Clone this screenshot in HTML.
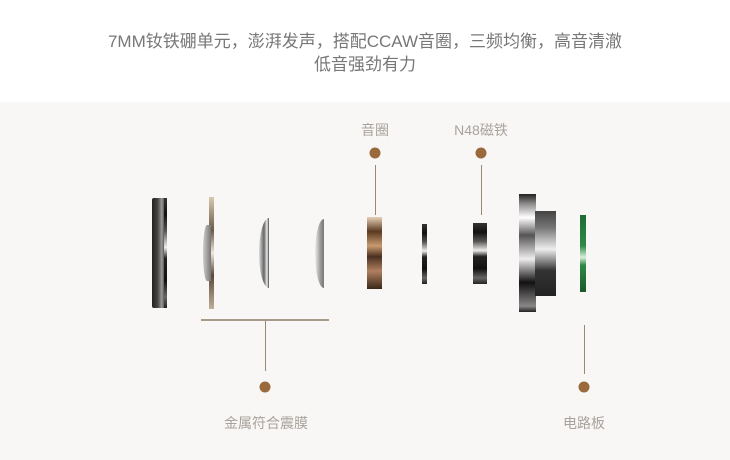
<!DOCTYPE html>
<html><head><meta charset="utf-8"><style>
body{margin:0;width:730px;height:460px;overflow:hidden;background:#fff;font-family:"Liberation Sans","Noto Sans CJK SC",sans-serif;position:relative}
.t{position:absolute;left:0;width:730px;text-align:center;color:#777;font-size:17px}
.bg{position:absolute;left:0;top:102px;width:730px;height:358px;background:#f8f7f6}
.a{position:absolute}
.lbl{position:absolute;color:#a9a29c;font-size:14px;transform:translateX(-50%);white-space:nowrap}
.dot{position:absolute;width:11px;height:11px;border-radius:50%;background:#9b6a3c;transform:translate(-50%,-50%)}
.vl{position:absolute;width:1px;background:#9a8877}
.mt{background:linear-gradient(#333 0%,#111 15%,#555 30%,#eee 45%,#222 55%,#111 75%,#666 90%,#222 100%)}
</style></head><body>
<div class="t" style="top:27px">7MM钕铁硼单元，澎湃发声，搭配CCAW音圈，三频均衡，高音清澈</div>
<div class="t" style="top:50px">低音强劲有力</div>
<div class="bg"></div>
<div class="a mt" style="left:152px;top:198px;width:14px;height:110px;border-radius:2px;background:linear-gradient(90deg,#222,#444 40%,#999 70%,#222)"></div>
<div class="a mt" style="left:164px;top:198px;width:3px;height:110px"></div>
<div class="a" style="left:209px;top:197px;width:5px;height:112px;background:linear-gradient(#d8c8b0,#6a5a48 30%,#f0e8dc 50%,#5a4a3a 70%,#c0b09a)"></div>
<div class="a" style="left:203px;top:225px;width:8px;height:56px;border-radius:50% 0 0 50%;background:linear-gradient(90deg,#ccc,#777)"></div>
<div class="a" style="left:259px;top:218px;width:10px;height:70px;border-radius:100% 0 0 100%/50% 0 0 50%;background:linear-gradient(90deg,#ddd,#666 50%,#eee 80%,#444)"></div>
<div class="a" style="left:315px;top:219px;width:9px;height:69px;border-radius:100% 0 0 100%/50% 0 0 50%;background:linear-gradient(90deg,#eee,#999 60%,#777)"></div>
<div class="a" style="left:367px;top:217px;width:15px;height:72px;background:linear-gradient(#e8d0b8,#5a3a20 20%,#c89a70 40%,#4a3020 55%,#b08060 75%,#3a2818)"></div>
<div class="a mt" style="left:422px;top:224px;width:5px;height:60px"></div>
<div class="a mt" style="left:473px;top:223px;width:14px;height:61px"></div>
<div class="a mt" style="left:519px;top:194px;width:17px;height:118px;background:linear-gradient(#222,#888 8%,#fff 20%,#555 35%,#eee 55%,#111 75%,#888 95%,#222)"></div>
<div class="a mt" style="left:535px;top:211px;width:21px;height:85px;background:linear-gradient(#444,#777 20%,#eee 45%,#333 70%,#222)"></div>
<div class="a" style="left:580px;top:215px;width:6px;height:77px;background:linear-gradient(#1e6b34,#2f8a46 40%,#d8f0dc 55%,#2f8a46 65%,#1a5a2c)"></div>
<div class="a" style="left:201px;top:319px;width:128px;height:2px;background:#a89a8a"></div>
<div class="vl" style="left:265px;top:321px;height:50px"></div>
<div class="dot" style="left:265px;top:387px"></div>
<div class="lbl" style="left:266px;top:413px">金属符合震膜</div>
<div class="vl" style="left:584px;top:325px;height:49px"></div>
<div class="dot" style="left:584px;top:387px"></div>
<div class="lbl" style="left:584px;top:413px">电路板</div>
<div class="lbl" style="left:375px;top:120px">音圈</div>
<div class="dot" style="left:375px;top:153px"></div>
<div class="vl" style="left:375px;top:165px;height:50px"></div>
<div class="lbl" style="left:481px;top:120px">N48磁铁</div>
<div class="dot" style="left:481px;top:153px"></div>
<div class="vl" style="left:481px;top:165px;height:50px"></div>
</body></html>
